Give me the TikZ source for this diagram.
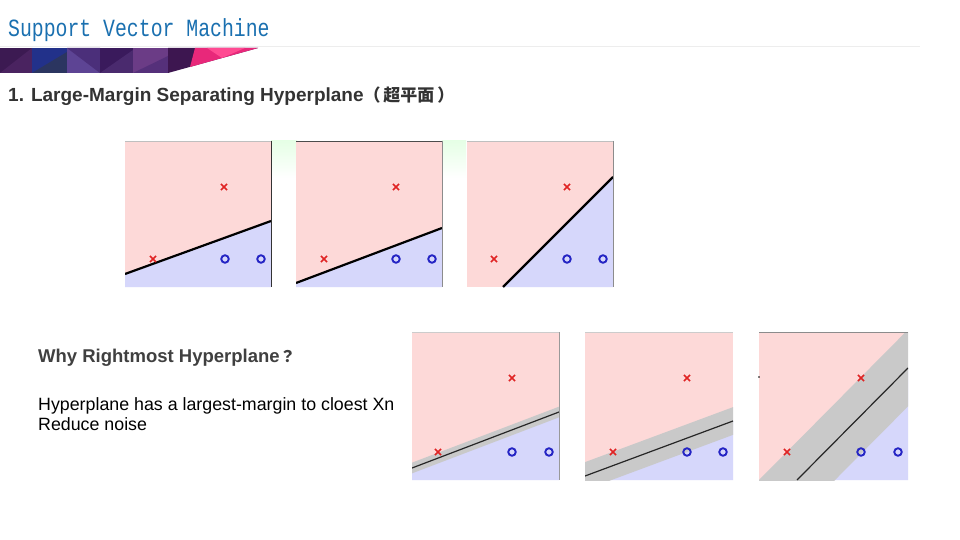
\documentclass[tikz,border=0pt]{standalone}
\usepackage{fontspec}
\setmainfont{Liberation Sans}
\newfontfamily\titlefont{Liberation Mono}
\newfontfamily\cjk{Noto Sans CJK TC}
\usetikzlibrary{shapes.misc,calc}
\definecolor{pinkbg}{HTML}{FDD9D8}
\definecolor{bluebg}{HTML}{D6D7FB}
\definecolor{bandgray}{HTML}{C9C9C9}
\definecolor{xred}{HTML}{E02424}
\definecolor{oblue}{HTML}{2424C4}
\definecolor{titleblue}{HTML}{1A70B0}
\definecolor{headgray}{HTML}{333333}
\definecolor{whygray}{HTML}{404040}
\definecolor{pA}{HTML}{3C1A52}
\definecolor{pA2}{HTML}{4A2360}
\definecolor{pB}{HTML}{22318A}
\definecolor{pB2}{HTML}{2B3560}
\definecolor{pC}{HTML}{5D4494}
\definecolor{pC2}{HTML}{4B2F7A}
\definecolor{pD}{HTML}{3A1A5C}
\definecolor{pD2}{HTML}{4A2A6E}
\definecolor{pE}{HTML}{6B3C86}
\definecolor{pE2}{HTML}{55307A}
\definecolor{pF}{HTML}{3D1650}
\definecolor{pinkA}{HTML}{E8287A}
\definecolor{pinkB}{HTML}{FF4A92}
\tikzset{
  xm/.style={cross out, draw=xred, line width=1.7pt, minimum size=4.5pt, inner sep=0pt},
  om/.style={circle, draw=oblue, line width=1.9pt, minimum size=7.5pt, inner sep=0pt},
  hyperthick/.style={draw=black, line width=2.2pt},
  hyperthin/.style={draw=black!85, line width=1.2pt},
  toptext/.style={anchor=base west, inner sep=0pt},
}
\begin{document}
\begin{tikzpicture}[x=1pt,y=-1pt]
\useasboundingbox (0,0) rectangle (960,540);
\fill[white] (0,0) rectangle (960,540);

% title
\node[toptext, text=titleblue, font=\titlefont\fontsize{19.8}{22}\selectfont, yscale=1.25] (title) at (8,37) {Support Vector Machine};
\draw[black!7, line width=1pt] (0,47) -- (920,47);

% decorative band
\fill[pA] (0,48) rectangle (32,73);
\fill[pA2] (0,73) -- (32,48) -- (32,73) -- cycle;
\fill[pB] (32,48) rectangle (67,73);
\fill[pB2] (32,73) -- (67,52) -- (67,73) -- cycle;
\fill[pC] (67,48) rectangle (100,73);
\fill[pC2] (67,48) -- (100,48) -- (100,73) -- cycle;
\fill[pD] (100,48) rectangle (133,73);
\fill[pD2] (100,73) -- (133,50) -- (133,73) -- cycle;
\fill[pE] (133,48) rectangle (168,73);
\fill[pE2] (133,73) -- (168,56) -- (168,73) -- cycle;
\fill[pF] (168,48) -- (258,48) -- (168,73) -- cycle;
\fill[pinkA] (195,48) -- (258,48) -- (190,67) -- cycle;
\fill[pinkB] (207,48) -- (245,48) -- (222,58) -- cycle;

% heading
\node[toptext, text=headgray, font=\bfseries\fontsize{19}{22}\selectfont] (head) at (8,102) {1. Large-Margin Separating Hyperplane{\cjk\fontsize{17}{18}\selectfont （\,超平面\,）}};

% faint green between top panels
\shade[top color=green!10, bottom color=white] (271,141) rectangle (297,178);
\shade[top color=green!10, bottom color=white] (442,141) rectangle (466,178);

% ---------- top panel 1
\coordinate (t1a) at (125,274); \coordinate (t1b) at (271,221);
\begin{scope}
\clip (125,141) rectangle (271,287);
\fill[pinkbg] (125,141) rectangle (271,287);
\fill[bluebg] (t1a) -- (t1b) -- (271,287) -- (125,287) -- cycle;
\draw[hyperthick] (t1a) -- (t1b);
\end{scope}
\draw[black!25, line width=0.8pt] (125,141) -- (271,141);
\draw[black!80, line width=1pt] (271,141) -- (271,287);
\node[xm] (t1x1) at (224,187) {};
\node[xm] (t1x2) at (153,259) {};
\node[om] (t1o1) at (225,259) {};
\node[om] (t1o2) at (261,259) {};

% ---------- top panel 2
\coordinate (t2a) at (296,283); \coordinate (t2b) at (442,228);
\begin{scope}
\clip (296,141) rectangle (442,287);
\fill[pinkbg] (296,141) rectangle (442,287);
\fill[bluebg] (t2a) -- (t2b) -- (442,287) -- (296,287) -- cycle;
\draw[hyperthick] (t2a) -- (t2b);
\end{scope}
\draw[black!70, line width=0.8pt] (296,141) -- (442,141);
\draw[black!45, line width=0.8pt] (442,141) -- (442,287);
\node[xm] (t2x1) at (396,187) {};
\node[xm] (t2x2) at (324,259) {};
\node[om] (t2o1) at (396,259) {};
\node[om] (t2o2) at (432,259) {};

% ---------- top panel 3
\coordinate (t3a) at (503,287); \coordinate (t3b) at (613,177);
\begin{scope}
\clip (467,141) rectangle (613,287);
\fill[pinkbg] (467,141) rectangle (613,287);
\fill[bluebg] (t3a) -- (t3b) -- (613,287) -- cycle;
\draw[hyperthick] (t3a) -- (t3b);
\end{scope}
\draw[black!25, line width=0.8pt] (467,141) -- (613,141);
\draw[black!45, line width=0.8pt] (613,141) -- (613,287);
\node[xm] (t3x1) at (567,187) {};
\node[xm] (t3x2) at (494,259) {};
\node[om] (t3o1) at (567,259) {};
\node[om] (t3o2) at (603,259) {};

% ---------- text
\node[toptext, text=whygray, font=\bfseries\fontsize{18.5}{22}\selectfont] (why) at (38,362) {Why Rightmost Hyperplane{\cjk\fontsize{16}{18}\selectfont ？}};
\node[toptext, text=black, font=\fontsize{17.8}{20}\selectfont] (l1) at (38,410) {Hyperplane has a largest-margin to cloest Xn};
\node[toptext, text=black, font=\fontsize{17.8}{20}\selectfont] (l2) at (38,430) {Reduce noise};

% ---------- bottom panel A
\coordinate (bAa) at (412,468); \coordinate (bAb) at (559,412);
\begin{scope}
\clip (412,332) rectangle (559,480);
\fill[pinkbg] (412,332) rectangle (559,480);
\fill[bluebg] (bAa) -- (bAb) -- (559,480) -- (412,480) -- cycle;
\draw[bandgray, line width=10pt] ($(bAa)!-0.2!(bAb)$) -- ($(bAb)!-0.2!(bAa)$);
\draw[hyperthin] (bAa) -- (bAb);
\end{scope}
\draw[black!20, line width=0.6pt] (412,332) -- (559,332);
\draw[black!40, line width=0.6pt] (559,332) -- (559,480);
\node[xm] (bAx1) at (512,378) {};
\node[xm] (bAx2) at (438,452) {};
\node[om] (bAo1) at (512,452) {};
\node[om] (bAo2) at (549,452) {};

% ---------- bottom panel B
\coordinate (bBa) at (585,476); \coordinate (bBb) at (733,421);
\begin{scope}
\clip (585,332) rectangle (733,480);
\fill[pinkbg] (585,332) rectangle (733,480);
\fill[bluebg] (bBa) -- (bBb) -- (733,480) -- (585,480) -- cycle;
\draw[bandgray, line width=26pt] ($(bBa)!-0.3!(bBb)$) -- ($(bBb)!-0.3!(bBa)$);
\draw[hyperthin] (bBa) -- (bBb);
\end{scope}
\draw[black!20, line width=0.6pt] (585,332) -- (733,332);
\node[xm] (bBx1) at (687,378) {};
\node[xm] (bBx2) at (613,452) {};
\node[om] (bBo1) at (687,452) {};
\node[om] (bBo2) at (723,452) {};

% ---------- bottom panel C
\coordinate (bCa) at (797,480); \coordinate (bCb) at (908,368);
\begin{scope}
\clip (759,332) rectangle (908,480);
\fill[pinkbg] (759,332) rectangle (908,480);
\fill[bluebg] (bCa) -- (bCb) -- (908,480) -- cycle;
\draw[bandgray, line width=54pt] ($(bCa)!-0.5!(bCb)$) -- ($(bCb)!-0.5!(bCa)$);
\draw[hyperthin] (bCa) -- (bCb);
\end{scope}
\draw[black!45, line width=0.6pt] (759,332) -- (908,332);
\fill[black] (759,377) circle (0.8pt);
\node[xm] (bCx1) at (861,378) {};
\node[xm] (bCx2) at (787,452) {};
\node[om] (bCo1) at (861,452) {};
\node[om] (bCo2) at (898,452) {};
\end{tikzpicture}
\end{document}
